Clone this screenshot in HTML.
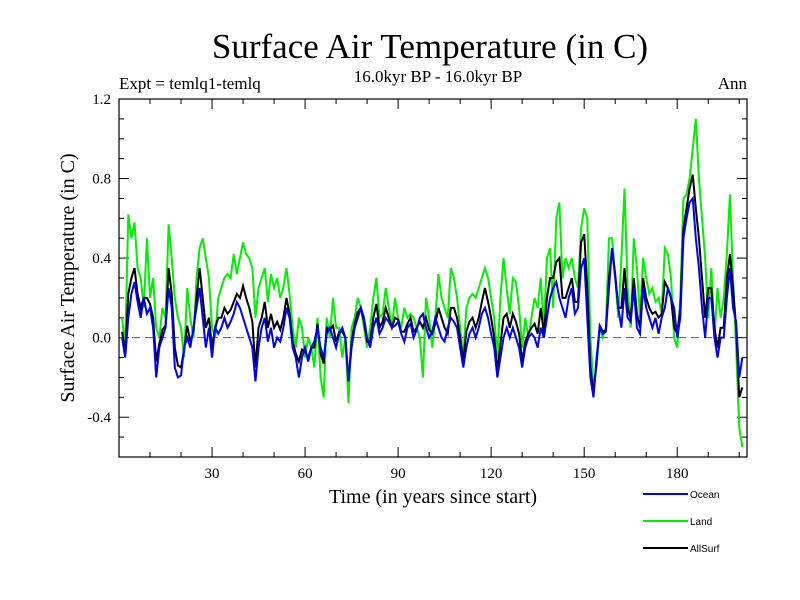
<!DOCTYPE html>
<html><head><meta charset="utf-8"><style>
html,body{margin:0;padding:0;background:#fff;}
svg{display:block;font-family:"Liberation Serif",serif;}
</style></head><body>
<svg id="chart" width="800" height="600">
<text x="430" y="58" font-size="35" text-anchor="middle">Surface Air Temperature (in C)</text>
<text x="438" y="82" font-size="17" text-anchor="middle">16.0kyr BP - 16.0kyr BP</text>
<text x="119" y="89" font-size="17">Expt = temlq1-temlq</text>
<text x="747" y="89" font-size="17" text-anchor="end">Ann</text>
<text transform="translate(74,278) rotate(-90)" font-size="20" text-anchor="middle">Surface Air Temperature (in C)</text>
<text x="433" y="503" font-size="20" text-anchor="middle">Time (in years since start)</text>
<g id="ticks"></g>
<g id="series"></g>
<rect x="119" y="99" width="628" height="358" fill="none" stroke="#000" stroke-width="1.2"/>
<g id="legend"></g>
</svg>
<script>
const ocean=[0.0,-0.1,0.1,0.22,0.28,0.18,0.1,0.2,0.12,0.15,0.05,-0.2,-0.05,0.0,0.05,0.25,0.15,-0.15,-0.2,-0.19,-0.05,0.0,-0.05,0.05,0.15,0.25,0.1,-0.05,0.05,-0.1,0.05,0.02,0.05,0.1,0.05,0.08,0.12,0.18,0.15,0.1,0.05,0.0,-0.05,-0.22,-0.05,0.05,0.1,-0.02,0.05,-0.05,0.0,-0.02,0.05,0.15,0.1,-0.05,-0.1,-0.2,-0.1,-0.05,-0.12,-0.05,-0.02,0.05,-0.05,-0.1,0.02,0.05,0.0,-0.05,0.02,0.05,0.0,-0.22,-0.05,0.05,0.1,0.15,0.1,0.0,-0.05,0.05,0.1,0.02,0.05,0.1,0.08,0.05,0.06,0.08,0.02,-0.02,0.05,0.07,0.0,0.04,0.1,0.12,0.05,0.0,0.03,0.1,0.05,0.0,-0.02,0.05,0.1,0.08,0.05,-0.05,-0.15,-0.05,0.02,0.05,0.0,0.05,0.12,0.15,0.1,0.02,-0.05,-0.2,-0.1,0.0,0.05,0.0,0.05,0.0,-0.05,-0.15,-0.05,0.0,0.02,0.0,-0.05,0.05,0.0,0.1,0.2,0.25,0.28,0.2,0.15,0.1,0.2,0.25,0.12,0.15,0.35,0.4,0.1,-0.2,-0.3,-0.1,0.05,0.02,0.03,0.25,0.45,0.3,0.15,0.05,0.25,0.1,0.08,0.25,0.05,0.02,0.25,0.15,0.1,0.05,0.1,0.02,0.1,0.15,0.25,0.2,0.15,0.0,0.1,0.5,0.6,0.68,0.7,0.5,0.35,0.15,0.0,0.2,0.2,0.0,-0.1,0.0,0.0,0.2,0.35,0.15,0.08,-0.2,-0.1];
const land=[0.1,-0.05,0.62,0.5,0.58,0.35,0.3,0.15,0.5,0.2,0.3,0.05,0.0,0.15,0.1,0.57,0.4,0.2,0.1,0.05,-0.1,0.25,0.1,0.0,0.3,0.45,0.5,0.4,0.3,0.05,0.0,0.2,0.25,0.3,0.32,0.3,0.42,0.32,0.4,0.48,0.42,0.4,0.35,0.1,0.25,0.3,0.35,0.18,0.32,0.25,0.3,0.2,0.25,0.35,0.22,0.05,-0.05,0.1,0.05,-0.1,0.0,-0.05,-0.15,0.1,-0.2,-0.3,0.1,0.0,0.2,0.05,0.05,-0.1,0.0,-0.33,0.05,0.1,0.2,0.15,0.05,-0.05,0.05,0.2,0.3,0.1,0.12,0.25,0.15,0.05,0.2,0.1,0.05,0.15,0.1,0.12,0.1,0.05,0.0,-0.2,0.2,0.1,-0.05,0.1,0.32,0.2,0.15,0.1,0.35,0.3,0.2,0.05,-0.1,0.15,0.2,0.22,0.2,0.25,0.3,0.35,0.3,0.2,0.1,-0.1,0.2,0.4,0.25,0.12,0.3,0.28,0.15,-0.05,0.1,0.0,0.1,0.2,0.15,0.3,0.05,0.4,0.45,0.15,0.6,0.68,0.3,0.4,0.35,0.4,0.3,0.25,0.55,0.65,0.6,0.0,-0.25,-0.15,0.05,0.0,0.05,0.5,0.5,0.3,0.1,0.4,0.75,0.25,0.05,0.5,0.35,0.1,0.4,0.3,0.22,0.25,0.18,0.2,0.12,0.45,0.42,0.3,0.0,-0.05,0.2,0.7,0.72,0.8,0.95,1.1,0.8,0.6,0.4,0.1,0.35,0.0,0.25,0.1,0.2,0.42,0.72,0.3,-0.05,-0.45,-0.55];
const allsurf=[0.03,-0.08,0.22,0.3,0.35,0.22,0.15,0.2,0.2,0.17,0.1,-0.12,-0.03,0.04,0.06,0.35,0.22,-0.05,-0.14,-0.15,-0.06,0.06,-0.02,0.03,0.2,0.35,0.2,0.05,0.1,-0.05,0.05,0.1,0.1,0.15,0.12,0.14,0.18,0.22,0.2,0.26,0.2,0.15,0.08,-0.15,0.05,0.1,0.18,0.05,0.12,0.05,0.08,0.04,0.1,0.2,0.12,-0.02,-0.08,-0.12,-0.06,-0.07,-0.1,-0.05,-0.05,0.07,-0.08,-0.13,0.05,0.04,0.06,-0.02,0.03,0.03,0.0,-0.22,-0.02,0.07,0.13,0.15,0.08,-0.02,-0.02,0.1,0.17,0.05,0.08,0.15,0.1,0.05,0.1,0.09,0.03,0.03,0.07,0.1,0.03,0.05,0.08,0.05,0.1,0.04,0.02,0.07,0.15,0.1,0.05,0.02,0.15,0.15,0.1,0.0,-0.12,0.03,0.08,0.1,0.05,0.1,0.18,0.25,0.18,0.1,0.0,-0.17,-0.03,0.1,0.12,0.05,0.12,0.08,0.02,-0.12,-0.02,0.02,0.05,0.07,0.02,0.15,0.02,0.2,0.3,0.3,0.38,0.4,0.2,0.2,0.25,0.3,0.18,0.18,0.48,0.52,0.25,-0.15,-0.28,-0.12,0.06,0.03,0.04,0.3,0.45,0.32,0.15,0.15,0.35,0.15,0.1,0.3,0.12,0.05,0.3,0.2,0.15,0.12,0.13,0.1,0.12,0.28,0.25,0.2,0.05,0.02,0.15,0.55,0.65,0.75,0.82,0.65,0.5,0.3,0.1,0.25,0.25,0.05,-0.05,0.05,0.05,0.3,0.42,0.25,0.05,-0.3,-0.25];
const xTicks=[30,60,90,120,150,180];
const yTicks=[-0.4,0.0,0.4,0.8,1.2];
const yTickLabels=["-0.4","0.0","0.4","0.8","1.2"];
const NS="http://www.w3.org/2000/svg";
const X0=119,X1=747,Y0=457,Y1=99,XMIN=0,XMAX=202.5,YMIN=-0.6,YMAX=1.2;
function sx(v){return X0+(v-XMIN)/(XMAX-XMIN)*(X1-X0);}
function sy(v){return Y0-(v-YMIN)/(YMAX-YMIN)*(Y0-Y1);}
function mk(t,a,p){const e=document.createElementNS(NS,t);for(const k in a)e.setAttribute(k,a[k]);p.appendChild(e);return e;}
const tg=document.getElementById('ticks');
for(let v=10;v<=200;v+=10){const maj=xTicks.includes(v);const L=maj?10:5;
 const t1=mk('line',{x1:sx(v),x2:sx(v),y1:Y0,y2:Y0-L,stroke:'#000'},tg);
 
 
 const t2=mk('line',{x1:sx(v),x2:sx(v),y1:Y1,y2:Y1+L,stroke:'#000'},tg);
 
 }
xTicks.forEach(v=>{const t=mk('text',{x:sx(v),y:Y0+21,'font-size':15,'text-anchor':'middle'},tg);t.textContent=v;
 
 });
for(let i=-5;i<=11;i++){const v=i/10;const maj=(i%4===0);const L=maj?10:5;
 const a=mk('line',{x1:X0,x2:X0+L,y1:sy(v),y2:sy(v),stroke:'#000'},tg);
 
 
 const b=mk('line',{x1:X1,x2:X1-L,y1:sy(v),y2:sy(v),stroke:'#000'},tg);
 
 }
yTicks.forEach((v,i)=>{const t=mk('text',{x:X0-8,y:sy(v)+5,'font-size':15,'text-anchor':'end'},tg);t.textContent=yTickLabels[i];
 
 });
const zl=mk('line',{x1:X0,x2:X1,y1:sy(0),y2:sy(0),stroke:'#555','stroke-dasharray':'8,5'},tg);


const sg=document.getElementById('series');
function line(arr,col,name){const pts=arr.map((v,i)=>sx(i+1)+','+sy(v)).join(' ');
 const p=mk('polyline',{points:pts,fill:'none',stroke:col,'stroke-width':2},sg);
 
 }
line(land,'#00ee00','land-line');
line(allsurf,'#000000','allsurf-line');
line(ocean,'#0000ee','ocean-line');
const lg=document.getElementById('legend');
[['Ocean','#0000ee',494],['Land','#00ee00',521],['AllSurf','#000',548]].forEach(d=>{
 const l=mk('line',{x1:643,x2:688,y1:d[2],y2:d[2],stroke:d[1],'stroke-width':2},lg);
 
 
 const t=mk('text',{x:690,y:d[2]+4,'font-size':10,'font-family':'Liberation Sans, sans-serif'},lg);t.textContent=d[0];
 
 });
</script>
</body></html>
